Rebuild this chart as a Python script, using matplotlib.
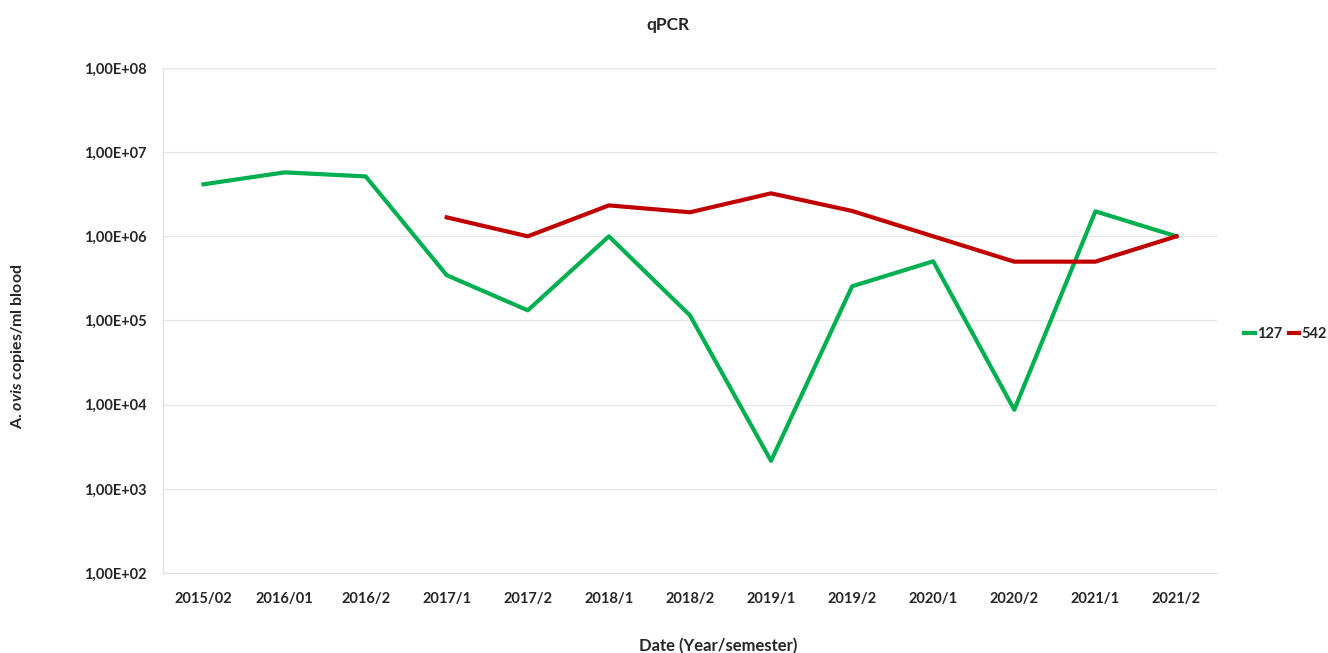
import numpy as np
import matplotlib.pyplot as plt
from matplotlib.ticker import FixedLocator

plt.rcParams['font.family'] = ['Lato', 'DejaVu Sans']
plt.rcParams['font.weight'] = 'bold'
plt.rcParams['mathtext.fontset'] = 'custom'
plt.rcParams['mathtext.it'] = 'Lato:italic:bold'
plt.rcParams['mathtext.rm'] = 'Lato:bold'

# Data
dates = ['2015/02', '2016/01', '2016/2', '2017/1', '2017/2', '2018/1', '2018/2',
         '2019/1', '2019/2', '2020/1', '2020/2', '2021/1', '2021/2']
s127 = [4.15e6, 5.75e6, 5.15e6, 3.45e5, 1.32e5, 1.0e6, 1.15e5,
        2.15e3, 2.55e5, 5.05e5, 8.7e3, 1.98e6, 1.0e6]
s542 = [np.nan, np.nan, np.nan, 1.68e6, 1.0e6, 2.33e6, 1.93e6,
        3.24e6, 2.0e6, 1.0e6, 5.0e5, 5.0e5, 1.0e6]
ytick_vals = [1e2, 1e3, 1e4, 1e5, 1e6, 1e7, 1e8]
ytick_labels = ['1,00E+02', '1,00E+03', '1,00E+04', '1,00E+05',
                '1,00E+06', '1,00E+07', '1,00E+08']

fig = plt.figure(figsize=(13.28, 6.53), dpi=100)
ax = fig.add_axes([0.1227, 0.1225, 0.7937, 0.7734])

x = np.arange(len(dates))
ax.plot(x, s127, color='#00b050', lw=3, label='127')
ax.plot(x, s542, color='#c00000', lw=3, label='542')

ax.set_yscale('log')
ax.set_ylim(1e2, 1e8)
ax.yaxis.set_major_locator(FixedLocator(ytick_vals))
ax.yaxis.set_minor_locator(FixedLocator([]))
ax.set_yticklabels(ytick_labels)
ax.set_xlim(-0.5, len(dates) - 0.5)
ax.set_xticks(x)
ax.set_xticklabels(dates)
ax.tick_params(length=0, labelsize=10.5, colors='#262626')
ax.tick_params(axis='y', pad=12)
ax.tick_params(axis='x', pad=14)
ax.grid(axis='y', color='#e6e6e6', lw=0.9)
ax.set_axisbelow(True)
for s in ['top', 'right']:
    ax.spines[s].set_visible(False)
for s in ['left', 'bottom']:
    ax.spines[s].set_color('#e0e0e0')
    ax.spines[s].set_linewidth(0.9)

fig.text(0.503, 0.962, 'qPCR', ha='center', va='center', fontsize=12.5, color='#262626')
fig.text(0.541, 0.01, 'Date (Year/semester)', ha='center', va='center', fontsize=12, color='#262626')
fig.text(0.0136, 0.47, r'A. $ovis$ copies/ml blood', rotation=90, ha='center', va='center',
         fontsize=11.5, color='#262626')

fig.legend(loc='center left', bbox_to_anchor=(0.937, 0.488), frameon=False, ncol=2,
           handlelength=0.75, handletextpad=0.1, columnspacing=0.45, fontsize=10.5,
           borderpad=0, borderaxespad=0, labelcolor='#262626')

fig.savefig('out.png', dpi=100)
